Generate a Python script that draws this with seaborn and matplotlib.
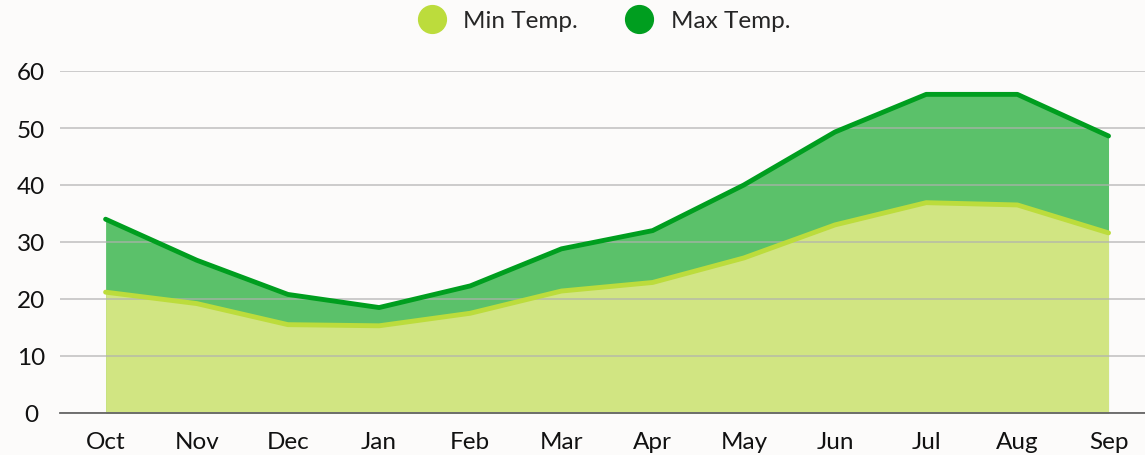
import pandas as pd
import seaborn as sns
import matplotlib.pyplot as plt
from matplotlib.lines import Line2D

months = ['Oct', 'Nov', 'Dec', 'Jan', 'Feb', 'Mar', 'Apr', 'May', 'Jun', 'Jul', 'Aug', 'Sep']
min_temp = [21.2, 19.2, 15.5, 15.3, 17.5, 21.4, 22.9, 27.2, 33.0, 36.9, 36.5, 31.6]
max_temp = [34.0, 26.8, 20.8, 18.5, 22.3, 28.8, 32.0, 40.0, 49.3, 55.9, 55.9, 48.6]

df = pd.DataFrame({'month': months, 'Min Temp.': min_temp, 'Max Temp.': max_temp})
df['x'] = range(len(months))

sns.set_style('white')
plt.rcParams['font.family'] = ['Lato', 'DejaVu Sans']

bg = '#fcfbfa'
min_line, min_fill = '#bcdc3c', '#d1e582'
max_line, max_fill = '#009e1f', '#5bc16a'

fig = plt.figure(figsize=(11.45, 4.56), dpi=100, facecolor=bg)
ax = fig.add_axes([60 / 1145, 42 / 456, 1 - 60 / 1145, (414 - 72) / 456])
ax.set_facecolor(bg)

ax.fill_between(df['x'], 0, df['Max Temp.'], color=max_fill, lw=0, zorder=1)
ax.fill_between(df['x'], 0, df['Min Temp.'], color=min_fill, lw=0, zorder=1.2)
sns.lineplot(data=df, x='x', y='Max Temp.', color=max_line, lw=3.5, ax=ax, zorder=4)
sns.lineplot(data=df, x='x', y='Min Temp.', color=min_line, lw=3.5, ax=ax, zorder=3)

# grid sits over the fills, as in the original
ax.set_axisbelow(False)
ax.yaxis.grid(True, color='#b0b0b0', lw=1.1, alpha=0.8, zorder=2)
ax.set_xlim(-0.5, 11.4)
ax.set_ylim(0, 60)
ax.set_yticks(range(0, 61, 10))
ax.set_xticks(df['x'])
ax.set_xticklabels(months)
ax.set_xlabel('')
ax.set_ylabel('')
for s in ['top', 'right', 'left']:
    ax.spines[s].set_visible(False)
ax.spines['bottom'].set_color('#666666')
ax.spines['bottom'].set_linewidth(1.3)
ax.spines['bottom'].set_zorder(5)
ax.tick_params(axis='both', length=0, labelsize=17.5, colors='#111111')
ax.tick_params(axis='x', pad=13)
ax.tick_params(axis='y', pad=21)
for lab in ax.get_yticklabels():
    lab.set_horizontalalignment('center')

handles = [Line2D([], [], marker='o', ls='', ms=20, color=min_line),
           Line2D([], [], marker='o', ls='', ms=20, color=max_line)]
fig.legend(handles, ['Min Temp.', 'Max Temp.'], loc='center', bbox_to_anchor=(0.523, 0.952),
           ncol=2, frameon=False, fontsize=17.5, handletextpad=0.3, columnspacing=1.5)

fig.savefig('out.png', dpi=100, facecolor=bg)
